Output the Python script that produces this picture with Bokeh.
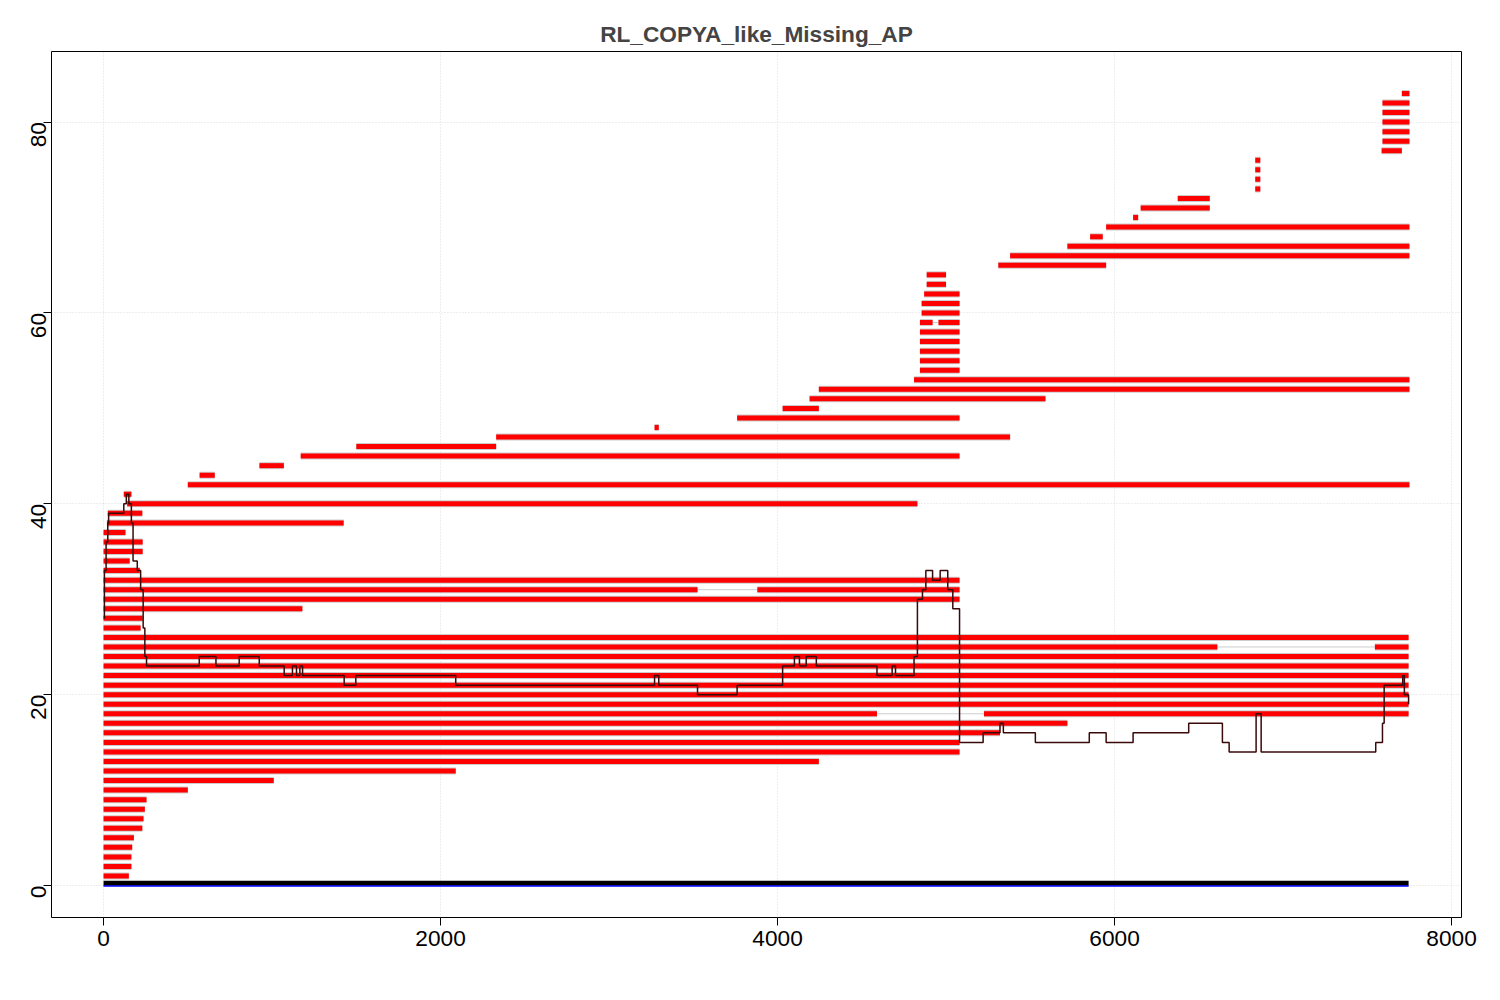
from bokeh.plotting import figure
from bokeh.models import Range1d, FixedTicker, Title
from bokeh.embed import file_html
from bokeh.resources import INLINE

# hit rows: (row, start, end); several entries on one row leave a gap
hit_rows = [1, 2, 3, 4, 5, 6, 7, 8, 9, 10, 11, 12, 13, 14, 15, 16, 17, 18, 18,
            19, 20, 21, 22, 23, 24, 25, 25, 26, 27, 28, 29, 30, 31, 31, 32, 33,
            34, 35, 36, 37, 38, 39, 40, 41, 42, 43, 44, 45, 46, 47, 48, 49, 50,
            51, 52, 53, 54, 55, 56, 57, 58, 59, 59, 60, 61, 62, 63, 64, 65, 66,
            67, 68, 69, 70, 71, 72, 73, 74, 75, 76, 77, 78, 79, 80, 81, 82, 83]
hit_start = [0, 0, 0, 0, 0, 0, 0, 0, 0, 0, 0, 0, 0, 0, 0, 0, 0, 0, 5225,
             0, 0, 0, 0, 0, 0, 0, 7545, 0, 0, 0, 0, 0, 0, 3880, 0, 0,
             0, 0, 0, 0, 20, 25, 140, 120, 500, 570, 925, 1170, 1500, 2330, 3270, 3760, 4030,
             4190, 4245, 4810, 4845, 4845, 4845, 4845, 4845, 4845, 4955, 4855, 4855, 4870, 4885, 4885, 5310, 5380,
             5720, 5855, 5950, 6110, 6155, 6375, 6835, 6835, 6835, 6835, 7585, 7590, 7590, 7590, 7590, 7590, 7705]
hit_end = [150, 165, 165, 170, 180, 230, 237, 245, 255, 500, 1010, 2090, 4245, 5080, 5080, 5320, 5720, 4590, 7745,
           7745, 7745, 7745, 7745, 7745, 7745, 6610, 7745, 7745, 220, 232, 1180, 5080, 3525, 5080, 5080, 215,
           155, 232, 232, 130, 1425, 230, 4830, 165, 7750, 660, 1070, 5080, 2330, 5380, 3295, 5080, 4245,
           5590, 7750, 7750, 5080, 5080, 5080, 5080, 5080, 4920, 5080, 5080, 5080, 5080, 5000, 5000, 5950, 7750,
           7750, 5930, 7750, 6140, 6565, 6565, 6865, 6865, 6865, 6865, 7705, 7750, 7750, 7750, 7750, 7750, 7750]

# coverage step line
cov_x = [0, 5, 15, 25, 30, 115, 120, 135, 150, 165, 175, 200, 220, 235, 245, 255,
         568, 667, 795, 805, 924, 1013, 1072, 1121, 1145, 1165, 1181, 1428, 1497,
         2090, 3270, 3295, 3525, 3760, 4030, 4100, 4130, 4170, 4230, 4590, 4680, 4700,
         4810, 4830, 4860, 4880, 4920, 4965, 5010, 5040, 5080, 5220, 5320, 5340, 5530,
         5850, 5950, 6110, 6440, 6640, 6680, 6840, 6870, 7550, 7590, 7600, 7710, 7720, 7745]
cov_y = [28, 33, 36, 38, 39, 39, 40, 41, 40, 38, 34, 33, 31, 27, 24, 23,
         24, 23, 23, 24, 23, 23, 22, 23, 22, 23, 22, 21, 22,
         21, 22, 21, 20, 21, 23, 24, 23, 24, 23, 22, 23, 22,
         24, 30, 31, 33, 32, 33, 31, 29, 15, 16, 17, 16, 15,
         16, 15, 16, 17, 15, 14, 18, 14, 15, 17, 21, 22, 20, 19]

seq_len = 7745

p = figure(width=1484, height=980, output_backend="svg", toolbar_location=None,
           x_range=Range1d(-309, 8059), y_range=Range1d(-3.35, 87.4),
           min_border_left=51, min_border_right=23, min_border_top=51, min_border_bottom=63)
p.add_layout(Title(text="RL_COPYA_like_Missing_AP", align="center",
                   text_font="Liberation Sans", text_font_size="17pt",
                   text_font_style="bold"), "above")

# thin grey guide across each row, red hits on top
rows = sorted(set(hit_rows))
p.segment([min(s for r, s in zip(hit_rows, hit_start) if r == q) for q in rows], rows,
          [max(e for r, e in zip(hit_rows, hit_end) if r == q) for q in rows], rows,
          line_color="#cccccc", line_width=1)
p.segment(hit_start, hit_rows, hit_end, hit_rows, line_color="#cccccc", line_width=7)
p.segment(hit_start, hit_rows, hit_end, hit_rows, line_color="red", line_width=5)

p.step(cov_x, cov_y, mode="after", line_color="#3a0a0a", line_width=1.5)

p.segment([0], [0.25], [seq_len], [0.25], line_color="black", line_width=5)
p.segment([0], [-0.05], [seq_len], [-0.05], line_color="blue", line_width=1.5)

p.xaxis.ticker = FixedTicker(ticks=[0, 2000, 4000, 6000, 8000])
p.yaxis.ticker = FixedTicker(ticks=[0, 20, 40, 60, 80])
for ax in (p.xaxis, p.yaxis):
    ax.major_label_text_font = "Liberation Sans"
    ax.major_label_text_font_size = "17pt"
    ax.major_label_text_color = "black"
    ax.minor_tick_line_color = None
    ax.major_tick_out = 8
    ax.major_tick_in = 0
    ax.axis_line_color = None
    ax.major_tick_line_color = "black"
p.yaxis.major_label_orientation = 1.5708
p.grid.grid_line_color = "#dddddd"
p.grid.grid_line_dash = "1 2"
p.outline_line_color = "black"
p.outline_line_width = 1

open("out.html", "w").write(file_html(p, INLINE))
